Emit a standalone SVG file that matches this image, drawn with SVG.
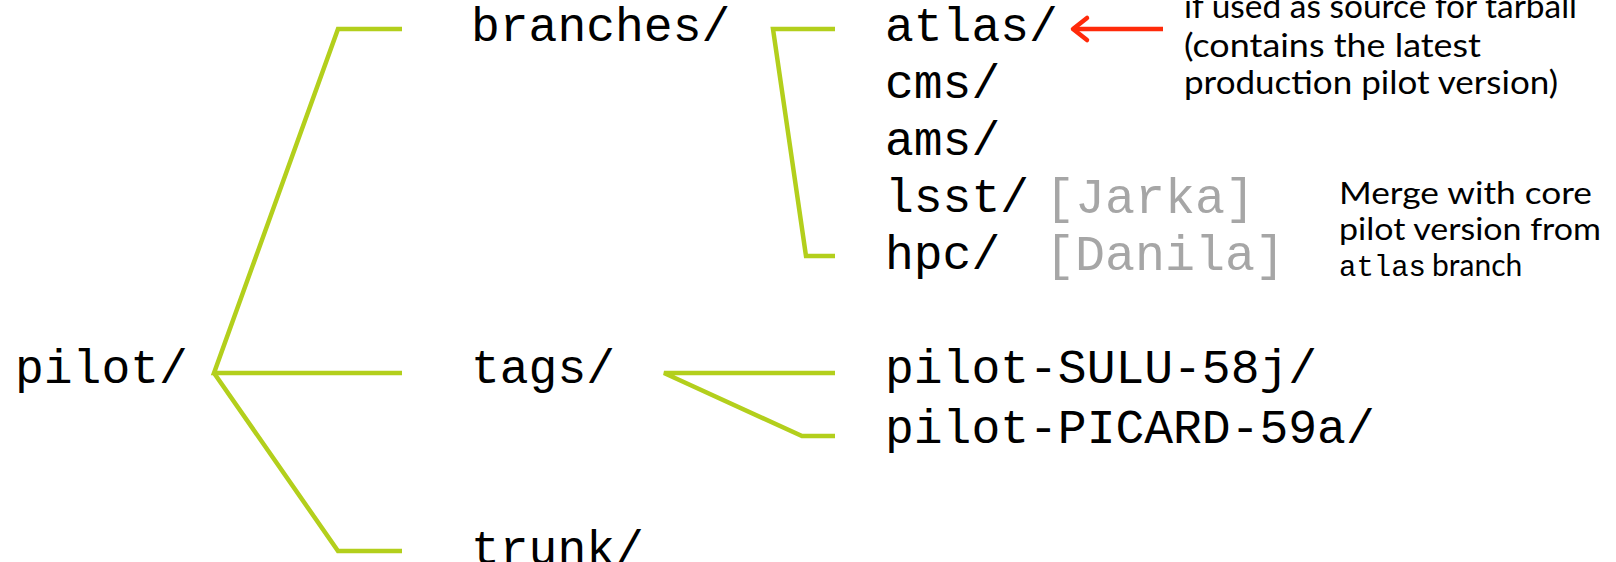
<svg xmlns="http://www.w3.org/2000/svg" width="1616" height="562" viewBox="0 0 1616 562">
<defs>
<style>
.mono{font-family:"Liberation Mono","Courier New",monospace;font-size:48px;fill:#000}
.gray{font-family:"Liberation Mono","Courier New",monospace;font-size:50px;fill:#a6a6a6}
.note{font-family:"Lato","Open Sans",sans-serif;font-size:32px;fill:#000}
.note2{font-family:"Lato","Open Sans",sans-serif;font-size:30px;fill:#000}
.nmono{font-family:"Liberation Mono","Courier New",monospace;font-size:29px;fill:#000}
.conn{fill:none;stroke:#b3cf1c;stroke-width:4.5;stroke-linejoin:miter}
.arrow{fill:none;stroke:#ff2a0a;stroke-width:4.5}
</style>
</defs>
<rect width="1616" height="562" fill="#fff"/>
<g id="connectors">
<polyline class="conn" points="402,29 338,29 214,373 402,373"/>
<polyline class="conn" points="214,373 338,551 402,551"/>
<polyline class="conn" points="835,29 773,29 806,256 835,256"/>
<polyline class="conn" points="835,373 664,373 802,436 835,436"/>
<line class="arrow" x1="1163" y1="29" x2="1074" y2="29"/>
<polyline class="arrow" points="1087,18 1073,29 1087,40" stroke-linejoin="round" stroke-linecap="round"/>
</g>
<g id="node-pilot"><text class="mono" x="15" y="383">pilot/</text></g>
<g id="node-branches"><text class="mono" x="471" y="41">branches/</text></g>
<g id="node-tags"><text class="mono" x="471" y="383">tags/</text></g>
<g id="node-trunk"><text class="mono" x="471" y="564">trunk/</text></g>
<g id="node-atlas"><text class="mono" x="885" y="41">atlas/</text></g>
<g id="node-cms"><text class="mono" x="885" y="98">cms/</text></g>
<g id="node-ams"><text class="mono" x="885" y="155">ams/</text></g>
<g id="node-lsst"><text class="mono" x="885" y="212">lsst/</text><text class="gray" x="1045" y="213">[Jarka]</text></g>
<g id="node-hpc"><text class="mono" x="885" y="269">hpc/</text><text class="gray" x="1045" y="270">[Danila]</text></g>
<g id="node-sulu"><text class="mono" x="885" y="383">pilot-SULU-58j/</text></g>
<g id="node-picard"><text class="mono" x="885" y="443">pilot-PICARD-59a/</text></g>
<g id="note-tarball">
<text class="note" x="1184" y="18" textLength="393" lengthAdjust="spacingAndGlyphs">if used as source for tarball</text>
<text class="note" x="1184" y="57" textLength="297" lengthAdjust="spacingAndGlyphs">(contains the latest</text>
<text class="note" x="1184" y="94" textLength="374" lengthAdjust="spacingAndGlyphs">production pilot version)</text>
</g>
<g id="note-merge">
<text class="note2" x="1339" y="204" textLength="253" lengthAdjust="spacingAndGlyphs">Merge with core</text>
<text class="note2" x="1339" y="240" textLength="262" lengthAdjust="spacingAndGlyphs">pilot version from</text>
<text x="1339" y="276"><tspan class="nmono">atlas</tspan><tspan class="note2" dx="6">branch</tspan></text>
</g>
</svg>
